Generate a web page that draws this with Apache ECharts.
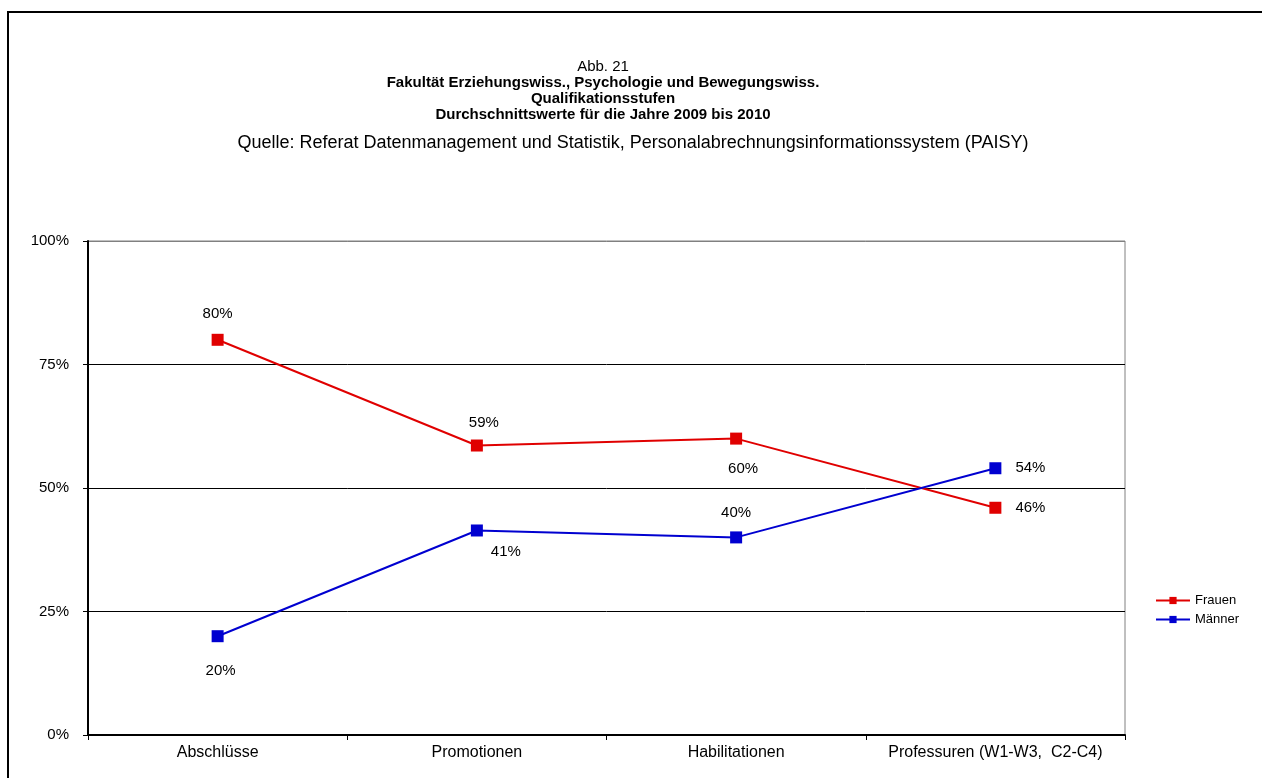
<!DOCTYPE html>
<html>
<head>
<meta charset="utf-8">
<script src="https://cdn.jsdelivr.net/npm/echarts@6/dist/echarts.min.js"></script>
<style>
  html, body { margin: 0; padding: 0; background: #fff; }
  #chart { width: 1262px; height: 778px; }
</style>
</head>
<body>
<div id="chart"></div>
<script>
/* Daten */
var categories = ['Abschlüsse', 'Promotionen', 'Habilitationen', 'Professuren (W1-W3,  C2-C4)']
var frauen = [80, 58.6, 60, 46]
var maenner = [20, 41.4, 40, 54]
var yTicks = [0, 25, 50, 75, 100]

var titleLines = [
  { text: 'Abb. 21', bold: false, top: 59 },
  { text: 'Fakultät Erziehungswiss., Psychologie und Bewegungswiss.', bold: true, top: 75 },
  { text: 'Qualifikationsstufen', bold: true, top: 91 },
  { text: 'Durchschnittswerte für die Jahre 2009 bis 2010', bold: true, top: 107 }
]

var font = 'Liberation Sans, Arial, sans-serif'

// Label-Positionen pro Punkt
var frauenLabels = [
  { position: 'top', distance: 12 },
  { position: 'top', distance: 9, offset: [7, 0] },
  { position: 'bottom', distance: 17, offset: [7, 0] },
  { position: 'right', distance: 14 }
]
var maennerLabels = [
  { position: 'bottom', distance: 21, offset: [3, 0] },
  { position: 'bottom', distance: 8, offset: [29, 0] },
  { position: 'top', distance: 11 },
  { position: 'right', distance: 14 }
]

var withLabels = function (values, labels) {
  return values.map(function (v, i) {
    return { value: v, label: labels[i] }
  })
}

var titles = titleLines.map(function (t) {
  return {
    text: t.text,
    left: 603,
    top: t.top,
    textAlign: 'center',
    padding: 0,
    textStyle: { fontFamily: font, fontSize: 15, fontWeight: t.bold ? 'bold' : 'normal', color: '#000' }
  }
})
titles.push({
  text: 'Quelle: Referat Datenmanagement und Statistik, Personalabrechnungsinformationssystem (PAISY)',
  left: 633,
  top: 134,
  textAlign: 'center',
  padding: 0,
  textStyle: { fontFamily: font, fontSize: 18, fontWeight: 'normal', color: '#000' }
})

var myChart = echarts.init(document.getElementById('chart'))
var options = {
  backgroundColor: '#fff',
  animation: false,
  title: titles,
  graphic: [{
    type: 'rect',
    shape: { x: 8, y: 12, width: 1300, height: 800 },
    style: { fill: 'none', stroke: '#000', lineWidth: 2 },
    silent: true
  }],
  legend: {
    orient: 'vertical',
    left: 1150,
    top: 589,
    itemWidth: 34,
    itemHeight: 9,
    itemGap: 6,
    textStyle: { fontFamily: font, fontSize: 13, color: '#000' },
    data: ['Frauen', 'Männer']
  },
  grid: {
    left: 88,
    right: 137,
    top: 241,
    bottom: 43,
    show: true,
    borderColor: '#808080',
    borderWidth: 1
  },
  xAxis: {
    type: 'category',
    data: categories,
    boundaryGap: true,
    axisLine: { lineStyle: { color: '#000', width: 2 } },
    axisTick: { show: true, length: 5, interval: 0, lineStyle: { color: '#000' } },
    axisLabel: { fontFamily: font, fontSize: 16, color: '#000', margin: 10, interval: 0 }
  },
  yAxis: {
    type: 'value',
    min: yTicks[0],
    max: yTicks[yTicks.length - 1],
    interval: 25,
    axisLine: { show: true, lineStyle: { color: '#000', width: 2 } },
    axisTick: { show: true, length: 5, lineStyle: { color: '#000' } },
    axisLabel: {
      fontFamily: font, fontSize: 15, color: '#000', margin: 19,
      formatter: function (v) { return v + '%' }
    },
    splitLine: { show: true, lineStyle: { color: ['#000', '#000', '#000', '#000', '#808080'], width: 1 } }
  },
  series: [
    {
      name: 'Frauen',
      type: 'line',
      data: withLabels(frauen, frauenLabels),
      color: '#e00000',
      symbol: 'rect',
      symbolSize: 12,
      lineStyle: { width: 2 },
      label: {
        show: true,
        fontFamily: font, fontSize: 15, color: '#000',
        formatter: function (p) { return Math.round(p.value) + '%' }
      }
    },
    {
      name: 'Männer',
      type: 'line',
      data: withLabels(maenner, maennerLabels),
      color: '#0000d0',
      symbol: 'rect',
      symbolSize: 12,
      lineStyle: { width: 2 },
      label: {
        show: true,
        fontFamily: font, fontSize: 15, color: '#000',
        formatter: function (p) { return Math.round(p.value) + '%' }
      }
    }
  ]
}
myChart.setOption(options)
</script>
</body>
</html>
